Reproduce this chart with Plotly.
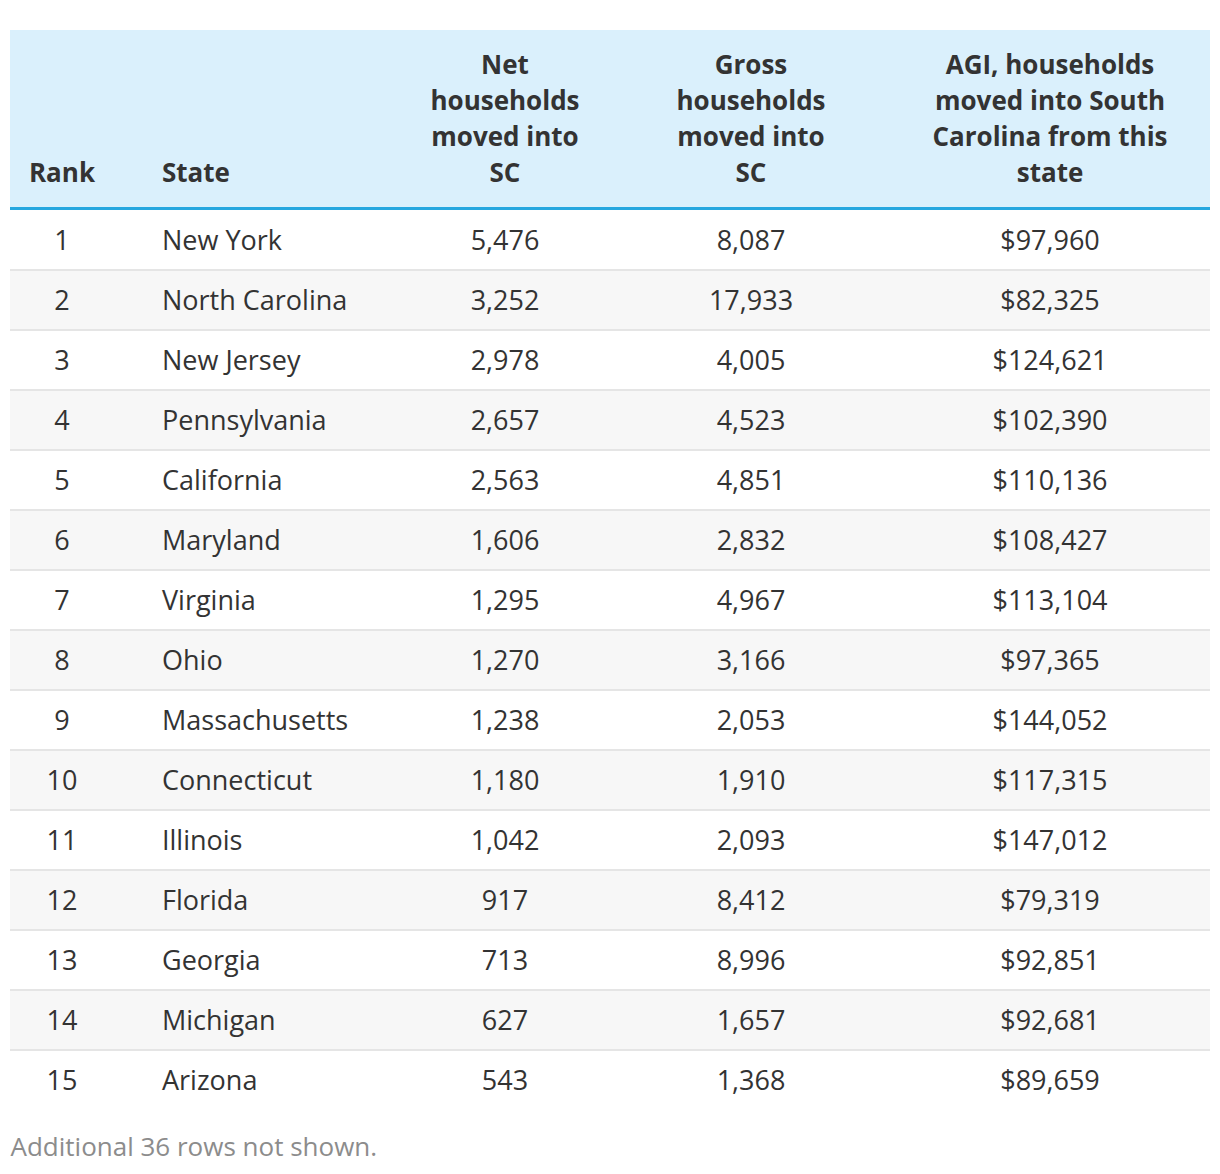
import plotly.graph_objects as go

# Top 15 states by net households moved into South Carolina
ranks = [1, 2, 3, 4, 5, 6, 7, 8, 9, 10, 11, 12, 13, 14, 15]
states = ['New York', 'North Carolina', 'New Jersey', 'Pennsylvania', 'California',
          'Maryland', 'Virginia', 'Ohio', 'Massachusetts', 'Connecticut',
          'Illinois', 'Florida', 'Georgia', 'Michigan', 'Arizona']
net_households = [5476, 3252, 2978, 2657, 2563, 1606, 1295, 1270, 1238, 1180,
                  1042, 917, 713, 627, 543]
gross_households = [8087, 17933, 4005, 4523, 4851, 2832, 4967, 3166, 2053, 1910,
                    2093, 8412, 8996, 1657, 1368]
agi = [97960, 82325, 124621, 102390, 110136, 108427, 113104, 97365, 144052, 117315,
       147012, 79319, 92851, 92681, 89659]

header_lines = [
    ['Rank'],
    ['State'],
    ['Net', 'households', 'moved into', 'SC'],
    ['Gross', 'households', 'moved into', 'SC'],
    ['AGI, households', 'moved into South', 'Carolina from this', 'state'],
]
footer_note = 'Additional 36 rows not shown.'

FONT = 'Open Sans'
TEXT_COLOR = '#333333'
HEADER_BG = '#daf0fc'
HEADER_LINE = '#26a7df'
ROW_ALT = '#f7f7f7'
SEP_COLOR = '#e5e5e5'

# column anchor positions (x axis is laid out in pixels) and alignment
col_x = [52, 152, 495, 741, 1040]
col_pos = ['middle center', 'middle right', 'middle center', 'middle center', 'middle center']

columns = [
    [str(r) for r in ranks],
    states,
    [f'{v:,}' for v in net_households],
    [f'{v:,}' for v in gross_households],
    [f'${v:,}' for v in agi],
]

n = len(ranks)
fig = go.Figure()

# alternating row backgrounds, slightly thinner than a row so separators show through
fig.add_trace(go.Bar(
    y=ranks,
    x=[1200] * n,
    base=0,
    orientation='h',
    width=58 / 60,
    marker=dict(color=['#ffffff' if r % 2 else ROW_ALT for r in ranks], line=dict(width=0)),
    hoverinfo='skip',
    showlegend=False,
))

# body cells (small nudge so glyphs sit centred in the row)
for xc, pos, vals in zip(col_x, col_pos, columns):
    fig.add_trace(go.Scatter(
        x=[xc] * n,
        y=[r + 0.05 for r in ranks],
        mode='text',
        text=vals,
        textposition=pos,
        textfont=dict(family=FONT, size=27, color=TEXT_COLOR),
        hoverinfo='skip',
        showlegend=False,
        cliponaxis=False,
    ))

# header cells, bottom aligned, one text per line
for xc, pos, lines in zip(col_x, col_pos, header_lines):
    k = len(lines)
    ys = [-0.067 - 0.6 * (k - 1 - i) for i in range(k)]
    fig.add_trace(go.Scatter(
        x=[xc] * k,
        y=ys,
        mode='text',
        text=[f'<b>{t}</b>' for t in lines],
        textposition=pos,
        textfont=dict(family=FONT, size=26, color=TEXT_COLOR),
        hoverinfo='skip',
        showlegend=False,
        cliponaxis=False,
    ))

# footer note (kept inside the x range, otherwise plotly hides it)
fig.add_trace(go.Scatter(
    x=[0.5],
    y=[16.15],
    mode='text',
    text=[footer_note],
    textposition='middle right',
    textfont=dict(family=FONT, size=26, color='#8c8c8c'),
    hoverinfo='skip',
    showlegend=False,
    cliponaxis=False,
))

# header background and its blue underline
fig.add_shape(type='rect', xref='x', yref='y', x0=0, x1=1200, y0=-2.5, y1=0.5,
              fillcolor=HEADER_BG, line=dict(width=0), layer='below')
fig.add_shape(type='rect', xref='x', yref='y', x0=0, x1=1200, y0=0.45, y1=0.5,
              fillcolor=HEADER_LINE, line=dict(width=0), layer='below')

fig.update_layout(
    width=1220,
    height=1174,
    margin=dict(l=10, r=10, t=30, b=0),
    paper_bgcolor='white',
    plot_bgcolor='white',
    bargap=0,
    font=dict(family=FONT),
    xaxis=dict(range=[0, 1200], visible=False, fixedrange=True),
    yaxis=dict(
        range=[16.5667, -2.5],
        showticklabels=False,
        ticks='',
        zeroline=False,
        showline=False,
        tickmode='array',
        tickvals=[i + 0.5 for i in range(1, n)],
        showgrid=True,
        gridcolor=SEP_COLOR,
        gridwidth=2,
        fixedrange=True,
    ),
)

# drop the browser's default body margin so the figure fills the window exactly
fig.write_html('out.html', config={'displayModeBar': False},
               post_script="document.body.style.margin = '0';")
